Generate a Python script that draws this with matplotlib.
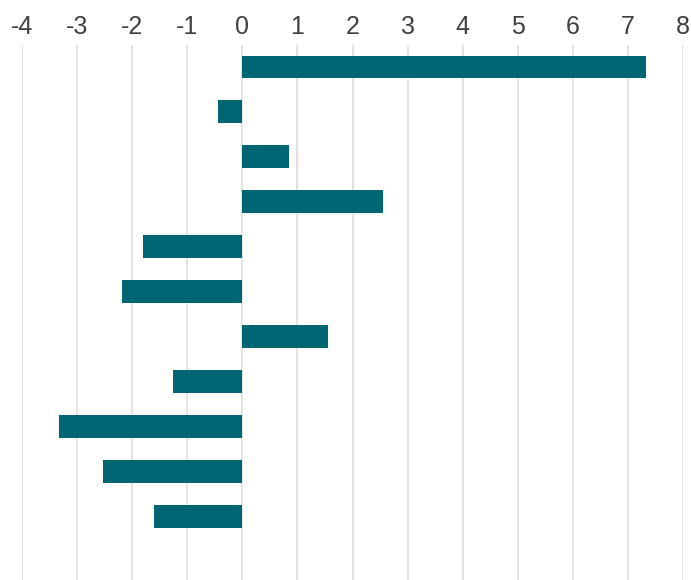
import matplotlib
matplotlib.use("Agg")
import matplotlib.pyplot as plt

values = [7.33, -0.45, 0.85, 2.55, -1.8, -2.18, 1.55, -1.25, -3.33, -2.53, -1.6]
ticks = [-4, -3, -2, -1, 0, 1, 2, 3, 4, 5, 6, 7, 8]
bar_color = "#006674"

fig = plt.figure(figsize=(6.91, 5.8), dpi=100)
ax = fig.add_axes([22/691, 0, (683-22)/691, (580-45)/580])
pos = list(range(len(values)))
ax.barh(pos, values, height=0.51, color=bar_color, zorder=3)
ax.set_xlim(-4, 8)
ax.set_ylim(11.42, -0.49)
ax.set_xticks(ticks)
ax.set_xticklabels([str(t) for t in ticks])
ax.xaxis.tick_top()
ax.tick_params(axis='x', length=0, pad=4.5, labelsize=18, labelcolor="#404040")
for lab in ax.get_xticklabels():
    lab.set_fontfamily("Liberation Sans")
ax.set_yticks([])
ax.grid(axis='x', color="#e3e3e3", linewidth=1.4, zorder=0)
for s in ax.spines.values():
    s.set_visible(False)
fig.savefig("out.png", dpi=100)
